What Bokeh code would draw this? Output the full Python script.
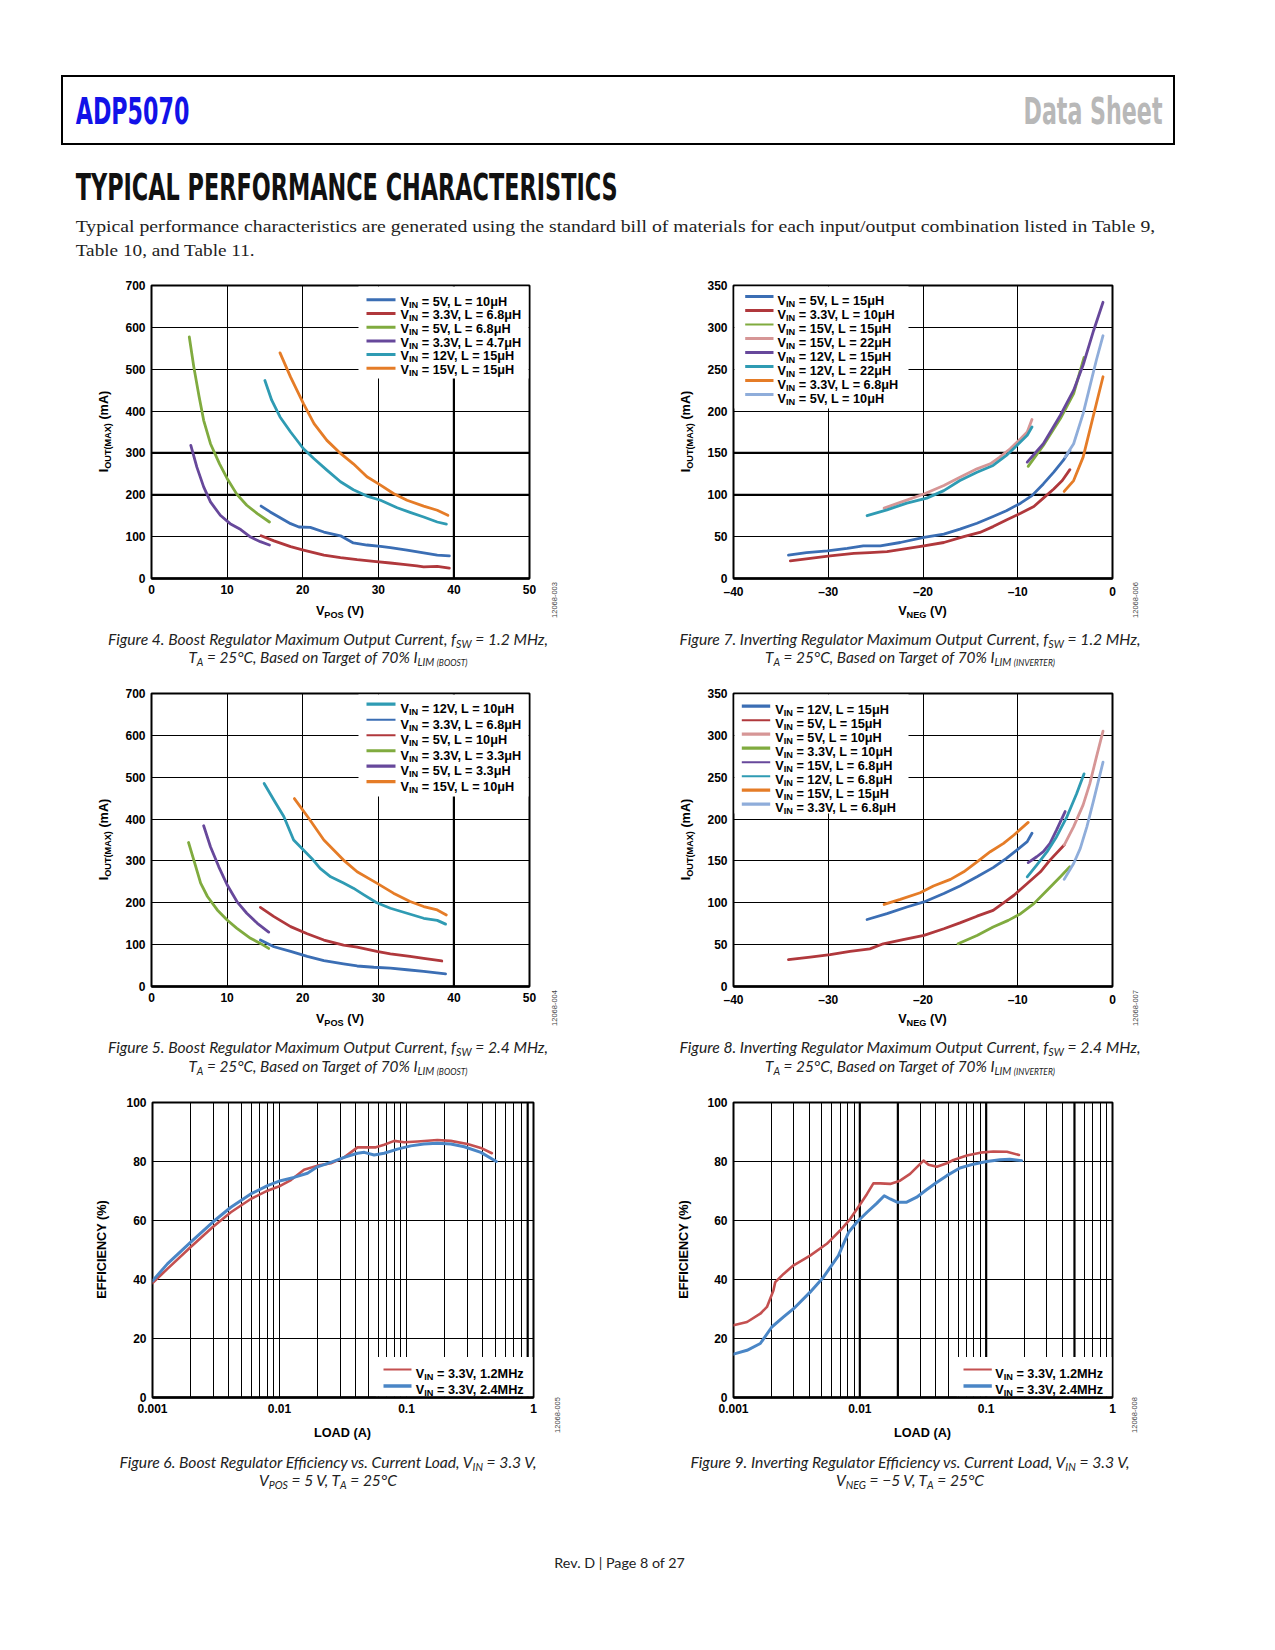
import math
from bokeh.plotting import figure
from bokeh.models import Label, BoxAnnotation, Span, FixedTicker, Div
from bokeh.layouts import column, row
from bokeh.embed import file_html
from bokeh.resources import INLINE

# ---------------- DATA ----------------
# Figure 4: boost, fSW = 1.2 MHz  (VPOS in V, IOUT(MAX) in mA)
F4_X_TICKS = [0, 10, 20, 30, 40, 50]
F4_Y_TICKS = [0, 100, 200, 300, 400, 500, 600, 700]
F4_5V_10UH_V = [14.5, 15.7, 18.4, 19.5, 21.0, 22.8, 25.0, 26.7, 28.5, 30.3, 31.6, 33.8, 36.0, 37.8, 39.4]
F4_5V_10UH_I = [173, 159, 131, 123, 122, 111, 102, 85, 80, 77, 74, 68, 61, 56, 54]
F4_33V_68UH_V = [14.5, 16.2, 18.4, 20.1, 22.8, 25.0, 27.2, 29.4, 31.6, 33.3, 35.1, 36.0, 37.8, 39.4]
F4_33V_68UH_I = [102, 90, 76, 68, 56, 50, 45, 41, 37, 34, 30, 28, 29, 25]
F4_5V_68UH_V = [5.0, 5.6, 6.3, 6.9, 7.8, 9.0, 10.0, 11.3, 12.6, 14.0, 15.6]
F4_5V_68UH_I = [577, 505, 434, 378, 322, 274, 239, 201, 175, 155, 135]
F4_33V_47UH_V = [5.2, 6.0, 6.9, 7.8, 9.1, 10.4, 11.8, 13.1, 14.4, 15.6]
F4_33V_47UH_I = [318, 266, 219, 183, 151, 131, 117, 99, 88, 80]
F4_12V_15UH_V = [15.0, 15.9, 17.0, 18.4, 20.1, 21.5, 23.2, 25.0, 26.7, 28.5, 30.3, 32.5, 34.2, 36.0, 37.8, 39.0]
F4_12V_15UH_I = [473, 426, 386, 350, 310, 286, 259, 231, 212, 197, 187, 169, 158, 147, 135, 130]
F4_15V_15UH_V = [17.0, 18.4, 20.1, 21.5, 23.2, 24.8, 26.7, 28.5, 30.3, 32.0, 33.8, 36.0, 37.8, 39.2]
F4_15V_15UH_I = [539, 481, 418, 370, 330, 302, 274, 243, 223, 203, 187, 173, 163, 151]

# Figure 5: boost, fSW = 2.4 MHz
F5_12V_10UH_V = [14.9, 16.2, 17.5, 18.8, 20.1, 21.2, 22.3, 23.7, 25.4, 26.7, 28.1, 29.8, 31.6, 33.8, 36.0, 37.8, 38.9]
F5_12V_10UH_I = [485, 445, 406, 350, 326, 306, 282, 262, 247, 235, 219, 200, 187, 175, 163, 158, 149]
F5_33V_68UH_V = [14.4, 16.2, 18.4, 20.6, 22.8, 25.4, 27.2, 29.4, 31.6, 33.8, 36.0, 38.9]
F5_33V_68UH_I = [111, 95, 84, 72, 62, 54, 49, 46, 44, 40, 36, 30]
F5_5V_10UH_V = [14.4, 16.2, 18.4, 20.6, 22.8, 25.4, 27.2, 29.8, 31.6, 34.2, 36.0, 38.4]
F5_5V_10UH_I = [189, 167, 143, 126, 111, 99, 94, 84, 78, 72, 67, 61]
F5_33V_33UH_V = [4.9, 5.6, 6.5, 7.4, 8.7, 10.0, 11.3, 13.1, 14.4, 15.5]
F5_33V_33UH_I = [344, 302, 247, 215, 183, 159, 139, 115, 103, 91]
F5_5V_33UH_V = [6.9, 7.8, 8.9, 10.0, 11.3, 12.6, 14.0, 15.5]
F5_5V_33UH_I = [384, 334, 286, 243, 203, 175, 151, 130]
F5_15V_10UH_V = [18.9, 20.8, 22.8, 25.4, 27.2, 29.8, 32.0, 34.2, 36.0, 37.8, 39.0]
F5_15V_10UH_I = [449, 402, 350, 302, 274, 247, 223, 203, 191, 183, 171]

# Figure 7: inverting, fSW = 1.2 MHz (VNEG in V)
F7_X_TICKS = [-40, -30, -20, -10, 0]
F7_X_LABELS = ["\u201340", "\u201330", "\u201320", "\u201310", "0"]
F7_Y_TICKS = [0, 50, 100, 150, 200, 250, 300, 350]
F7_5V_15UH_V = [-34.2, -32.3, -30.1, -28.0, -26.3, -24.5, -22.4, -19.9, -17.8, -16.1, -14.3, -12.6, -11.2, -9.7, -8.5, -7.3, -6.2, -5.2, -4.5]
F7_5V_15UH_I = [28, 31, 33, 36, 39, 39, 43, 49, 53, 59, 66, 74, 81, 90, 99, 113, 127, 141, 153]
F7_33V_10UH_V = [-34.0, -31.9, -29.8, -27.3, -25.6, -23.8, -22.1, -19.9, -17.8, -15.7, -14.0, -12.6, -11.2, -9.7, -8.3, -7.3, -6.2, -5.3, -4.5]
F7_33V_10UH_I = [21, 24, 27, 30, 31, 32, 35, 39, 43, 50, 55, 62, 70, 78, 86, 96, 107, 117, 130]
F7_15V_15UH_V = [-8.9, -7.3, -5.5, -4.1, -3.0]
F7_15V_15UH_I = [134, 159, 191, 221, 264]
F7_15V_22UH_V = [-24.1, -22.4, -19.9, -17.8, -16.1, -14.3, -12.9, -11.9, -10.8, -9.7, -9.0, -8.5]
F7_15V_22UH_I = [84, 91, 101, 111, 121, 131, 137, 145, 155, 167, 175, 190]
F7_12V_15UH_V = [-9.0, -7.3, -5.5, -4.1, -3.1, -2.0, -1.0]
F7_12V_15UH_I = [139, 161, 195, 225, 255, 296, 330]
F7_12V_22UH_V = [-25.9, -23.8, -21.7, -19.6, -17.8, -16.1, -14.3, -12.6, -11.2, -10.1, -9.0, -8.5]
F7_12V_22UH_I = [75, 82, 90, 96, 105, 117, 127, 135, 147, 159, 171, 181]
F7_33V_68UH_V = [-5.1, -4.1, -3.1, -2.4, -1.7, -1.0]
F7_33V_68UH_I = [104, 117, 145, 177, 209, 241]
F7_5V_10UH_V = [-5.0, -4.1, -3.1, -2.4, -1.7, -1.0]
F7_5V_10UH_I = [145, 161, 197, 229, 261, 290]

# Figure 8: inverting, fSW = 2.4 MHz
F8_12V_15UH_V = [-25.9, -23.8, -21.7, -19.9, -17.8, -16.1, -14.3, -12.6, -11.2, -10.1, -9.0, -8.5]
F8_12V_15UH_I = [80, 87, 95, 101, 111, 120, 131, 142, 153, 163, 173, 183]
F8_5V_15UH_V = [-34.2, -31.9, -29.8, -27.7, -25.6, -24.2, -22.1, -19.9, -17.8, -16.1, -14.3, -12.6, -11.5, -10.4, -9.0, -7.6, -6.6, -5.1]
F8_5V_15UH_I = [32, 35, 38, 42, 45, 51, 56, 61, 69, 76, 84, 91, 100, 109, 123, 137, 151, 169]
F8_5V_10UH_V = [-5.1, -4.1, -3.1, -2.4, -1.7, -1.0]
F8_5V_10UH_I = [169, 191, 217, 242, 274, 305]
F8_33V_10UH_V = [-16.3, -14.3, -12.6, -11.0, -9.7, -8.3, -6.9, -5.5, -4.5]
F8_33V_10UH_I = [51, 61, 71, 79, 87, 99, 115, 131, 143]
F8_15V_68UH_V = [-8.9, -8.0, -7.3, -6.6, -5.9, -5.0]
F8_15V_68UH_I = [148, 155, 161, 171, 187, 209]
F8_12V_68UH_V = [-9.0, -8.0, -6.9, -5.9, -4.8, -3.8, -3.0]
F8_12V_68UH_I = [131, 145, 161, 179, 203, 230, 254]
F8_15V_15UH_V = [-24.1, -22.4, -20.3, -18.9, -17.1, -15.7, -14.3, -12.9, -11.5, -10.4, -8.9]
F8_15V_15UH_I = [98, 104, 112, 120, 128, 137, 149, 161, 171, 181, 196]
F8_33V_68UH_V = [-5.1, -4.1, -3.4, -2.7, -2.0, -1.0]
F8_33V_68UH_I = [128, 147, 165, 191, 222, 268]

# Figure 6 / 9: efficiency vs load (A, %)
EFF_X_TICKS = [0.001, 0.01, 0.1, 1]
EFF_X_LABELS = ["0.001", "0.01", "0.1", "1"]
EFF_Y_TICKS = [0, 20, 40, 60, 80, 100]
F6_LOAD_12 = [0.001, 0.00131, 0.002, 0.00297, 0.00414, 0.00594, 0.00805, 0.0102, 0.0123, 0.0156, 0.0199, 0.0254, 0.0323, 0.0411, 0.0493, 0.0574, 0.0667, 0.080, 0.0959, 0.122, 0.175, 0.223, 0.302, 0.385, 0.47]
F6_EFF_12 = [38.8, 43.6, 51.0, 57.7, 62.8, 67.3, 70.1, 71.8, 73.7, 77.2, 78.6, 79.4, 81.4, 84.8, 84.8, 84.8, 85.7, 87.0, 86.5, 86.8, 87.3, 87.0, 85.9, 84.6, 82.8]
F6_LOAD_24 = [0.001, 0.00131, 0.002, 0.00297, 0.00414, 0.00594, 0.00805, 0.0102, 0.0130, 0.0166, 0.0199, 0.0254, 0.0323, 0.0411, 0.0465, 0.0556, 0.0667, 0.0848, 0.108, 0.137, 0.175, 0.223, 0.285, 0.385, 0.51]
F6_EFF_24 = [39.5, 45.3, 52.7, 59.4, 64.5, 69.0, 71.8, 73.5, 74.6, 76.0, 78.2, 79.7, 81.4, 82.8, 83.1, 82.2, 82.8, 84.2, 85.3, 85.9, 86.2, 85.9, 85.0, 83.1, 80.0]
F9_LOAD_12 = [0.001, 0.00128, 0.00163, 0.00184, 0.00207, 0.00214, 0.00249, 0.00299, 0.00404, 0.00548, 0.00698, 0.00838, 0.0101, 0.0114, 0.0128, 0.0145, 0.0174, 0.0208, 0.025, 0.0291, 0.0319, 0.035, 0.0407, 0.0488, 0.0551, 0.0703, 0.0897, 0.114, 0.146, 0.182]
F9_EFF_12 = [24.5, 25.6, 28.4, 30.7, 36.3, 39.1, 41.9, 44.8, 48.1, 52.1, 56.6, 60.5, 65.6, 69.0, 72.6, 72.6, 72.4, 73.5, 75.8, 78.6, 80.3, 78.9, 78.2, 79.4, 80.5, 82.0, 83.0, 83.4, 83.3, 82.2]
F9_LOAD_24 = [0.001, 0.00128, 0.00163, 0.00201, 0.00249, 0.00299, 0.00404, 0.00515, 0.00677, 0.00742, 0.00815, 0.00945, 0.0114, 0.0136, 0.0156, 0.0174, 0.0197, 0.0235, 0.0282, 0.0337, 0.0405, 0.0488, 0.0619, 0.0792, 0.101, 0.1286, 0.154, 0.191]
F9_EFF_24 = [14.7, 16.0, 18.3, 23.9, 27.3, 30.1, 35.7, 40.8, 48.1, 52.1, 56.0, 59.4, 62.8, 65.8, 68.4, 67.3, 66.2, 66.2, 67.9, 70.4, 72.9, 75.2, 77.8, 79.1, 80.0, 80.6, 80.8, 80.3]

# ---------------- STYLE ----------------
BLUE = "#3b6eb4"
RED = "#b0383c"
GREEN = "#80ab3f"
PURPLE = "#67489b"
TEAL = "#2f9bb3"
ORANGE = "#e57c27"
PINK = "#d69696"
LBLUE = "#8fadda"
RED6 = "#c45050"
BLUE6 = "#4a86c6"

FONT = "Liberation Sans"
LF, LS = 12.7, 9.2      # legend main / subscript size

AW = {' ': 278, '(': 333, ')': 333, '%': 889, ',': 278, '.': 278, '-': 333, '=': 584,
      'A': 722, 'B': 722, 'C': 722, 'D': 722, 'E': 667, 'F': 611, 'G': 778, 'H': 722,
      'I': 278, 'L': 611, 'M': 833, 'N': 722, 'O': 778, 'P': 667, 'S': 667, 'T': 611,
      'U': 722, 'V': 667, 'X': 667, 'Y': 667, 'm': 889, '\u03bc': 611}
for _d in "0123456789":
    AW[_d] = 556


def tw(s, size):
    return sum(AW.get(c, 600) for c in s) * size / 1000.0


class Frame:
    def __init__(self, xr, yr, fw, fh, log=False):
        self.xr, self.yr, self.fw, self.fh, self.log = xr, yr, fw, fh, log

    def xd(self, px):
        a, b = self.xr
        if self.log:
            la, lb = math.log10(a), math.log10(b)
            return 10 ** (la + px / self.fw * (lb - la))
        return a + px / self.fw * (b - a)

    def yd(self, py):
        a, b = self.yr
        return a + py / self.fh * (b - a)


def base_fig(bl, br, bt, bb, fr, xticks, yticks, xlabels=None, xminor=None):
    W = bl + fr.fw + br
    H = bt + fr.fh + bb
    p = figure(width=W, height=H, x_range=fr.xr, y_range=fr.yr,
               x_axis_type="log" if fr.log else "linear",
               output_backend="svg", toolbar_location=None,
               min_border_left=bl, min_border_right=br, min_border_top=bt, min_border_bottom=bb)
    p.background_fill_color = "white"
    p.border_fill_color = "white"
    p.outline_line_color = "black"
    p.outline_line_width = 2
    p.xaxis.ticker = FixedTicker(ticks=xticks, minor_ticks=xminor or [])
    p.yaxis.ticker = FixedTicker(ticks=yticks)
    p.xgrid.ticker = FixedTicker(ticks=xticks, minor_ticks=xminor or [])
    p.ygrid.ticker = FixedTicker(ticks=yticks)
    if xlabels:
        p.xaxis.major_label_overrides = {t: l for t, l in zip(xticks, xlabels)}
    for ax in (p.xaxis[0], p.yaxis[0]):
        ax.major_tick_in = 0
        ax.major_tick_out = 0
        ax.minor_tick_in = 0
        ax.minor_tick_out = 0
        ax.axis_line_color = None
        ax.major_label_text_font = FONT
        ax.major_label_text_font_style = "bold"
        ax.major_label_text_font_size = "12px"
        ax.major_label_text_color = "black"
        ax.major_label_standoff = 6
    p.xaxis.axis_line_color = "black"
    p.xaxis.axis_line_width = 2.6
    p.grid.grid_line_color = "black"
    p.grid.grid_line_width = 1
    if xminor:
        p.xgrid.minor_grid_line_color = "black"
        p.xgrid.minor_grid_line_width = 1
    return p


def rich(p, fr, parts, ox, oy):
    cur = 0.0
    for t, s, d in parts:
        lead = len(t) - len(t.lstrip(" "))
        cur += tw(" " * lead, s)
        t2 = t.lstrip(" ")
        p.add_layout(Label(x=fr.xr[0], y=fr.yr[0], x_offset=ox + cur, y_offset=oy - d, text=t2,
                           text_font=FONT, text_font_style="bold", text_font_size=f"{s}px",
                           text_color="black", text_align="left", text_baseline="alphabetic"))
        cur += tw(t2, s)


def spans(p, xs=(), ys=()):
    for v in xs:
        p.add_layout(Span(location=v, dimension="height", line_color="black",
                          line_width=2.2, level="underlay"))
    for v in ys:
        p.add_layout(Span(location=v, dimension="width", line_color="black",
                          line_width=2.2, level="underlay"))


def legend_box(p, fr, left_px, right_px, bot_px, top_px):
    p.add_layout(BoxAnnotation(left=fr.xd(left_px), right=fr.xd(right_px),
                               bottom=fr.yd(bot_px), top=fr.yd(top_px),
                               fill_color="white", fill_alpha=1.0, line_alpha=0.0,
                               level="underlay"))


def legend(p, fr, items, sx0, sx1, tx, bases, lines):
    for (txt, col, w), b, l in zip(items, bases, lines):
        y = fr.yd(l)
        p.segment(x0=[fr.xd(sx0)], y0=[y], x1=[fr.xd(sx1)], y1=[y], line_color=col, line_width=w)
        rich(p, fr, [("V", LF, 0), ("IN", LS, 3), (txt, LF, 0)], tx, b)


def curves(p, series, width=2.8):
    for xs, ys, col in series:
        p.line(xs, ys, line_color=col, line_width=width, line_join="round", line_cap="round")


LOG_MINOR = [k * 10.0 ** e for e in (-3, -2, -1) for k in range(2, 10)]

# ---------------- SVG text helpers ----------------
CAP_FONT = "Lato, 'Open Sans', 'Noto Sans', sans-serif"
COND_FONT = "'Liberation Sans Narrow', 'DejaVu Sans Condensed', 'Liberation Sans', sans-serif"
AX_FONT = "'Liberation Sans', Arial, sans-serif"


def esc(s):
    return s.replace("&", "&amp;").replace("<", "&lt;").replace(">", "&gt;")


def svg_text(x, y, parts, size, family, anchor="middle", length=None, style="normal",
             weight="normal", fill="#000000", sub=0.68, shift=None, transform=None):
    out, cur = [], 0.0
    sh_sub = size * 0.2 if shift is None else shift
    for t, k in parts:
        if k == "n":
            fs, sh = size, 0.0
        elif k == "s":
            fs, sh = size * sub, sh_sub
        else:
            fs, sh = size * 0.55, sh_sub
        dy = sh - cur
        cur = sh
        out.append(f'<tspan font-size="{fs:.2f}" dy="{dy:.2f}">{esc(t)}</tspan>')
    tl = f' textLength="{length}" lengthAdjust="spacingAndGlyphs"' if length else ""
    tr = f' transform="{transform}"' if transform else ""
    st = (f"font-family:{family};font-style:{style};font-weight:{weight};"
          f"white-space:pre;fill:{fill}")
    return (f'<text x="{x}" y="{y}" text-anchor="{anchor}" style="{st}"{tl}{tr}>'
            f'{"".join(out)}</text>')


def svg_div(w, h, inner):
    html = (f'<svg xmlns="http://www.w3.org/2000/svg" width="{w}" height="{h}" '
            f'style="display:block;overflow:visible">{inner}</svg>')
    return Div(text=html, width=w, height=h, margin=0)


def chart_block(p, fr, bl, bt, block_h, ylab_w, tag_w, ylab_parts, ylab_cx,
                xlab_parts, xlab_base, tag_text, tag_x, tag_y):
    fig_w = p.width
    fig_h = p.height
    cy = bt + fr.fh / 2.0
    bx = ylab_cx + 4.5
    ylab = svg_div(ylab_w, block_h,
                   svg_text(0, 0, ylab_parts, 12.7, AX_FONT, weight="bold", sub=0.72, shift=3,
                            transform=f"translate({bx},{cy}) rotate(-90)"))
    xlab = svg_div(fig_w, block_h - fig_h,
                   svg_text(bl + fr.fw / 2.0, xlab_base, xlab_parts, 12.7, AX_FONT,
                            weight="bold", sub=0.72, shift=3))
    tagd = svg_div(tag_w, block_h,
                   svg_text(0, 0, [(tag_text, "n")], 7.5, AX_FONT, fill="#444444",
                            transform=f"translate({tag_x + 2.5},{tag_y}) rotate(-90)"))
    return row(ylab, column(p, xlab, spacing=0), tagd, spacing=0)


Y_IOUT = [("I", "n"), ("OUT(MAX)", "s"), (" (mA)", "n")]
X_VPOS = [("V", "n"), ("POS", "s"), (" (V)", "n")]
X_VNEG = [("V", "n"), ("NEG", "s"), (" (V)", "n")]
Y_EFF = [("EFFICIENCY (%)", "n")]
X_LOAD = [("LOAD (A)", "n")]

# ---------------- FIGURE 4 ----------------
fr4 = Frame((0, 50), (0, 700), 378, 293)
p4 = base_fig(38, 14, 23, 24, fr4, F4_X_TICKS, F4_Y_TICKS)
spans(p4, xs=[40], ys=[200, 300])
legend_box(p4, fr4, 207, fr4.fw - 1, fr4.fh - 93, fr4.fh - 1)
curves(p4, [(F4_5V_10UH_V, F4_5V_10UH_I, BLUE), (F4_33V_68UH_V, F4_33V_68UH_I, RED),
            (F4_5V_68UH_V, F4_5V_68UH_I, GREEN), (F4_33V_47UH_V, F4_33V_47UH_I, PURPLE),
            (F4_12V_15UH_V, F4_12V_15UH_I, TEAL), (F4_15V_15UH_V, F4_15V_15UH_I, ORANGE)])
legend(p4, fr4, [(" = 5V, L = 10\u03bcH", BLUE, 3), (" = 3.3V, L = 6.8\u03bcH", RED, 3),
                 (" = 5V, L = 6.8\u03bcH", GREEN, 3), (" = 3.3V, L = 4.7\u03bcH", PURPLE, 3),
                 (" = 12V, L = 15\u03bcH", TEAL, 3), (" = 15V, L = 15\u03bcH", ORANGE, 3)],
       215, 244, 249,
       [fr4.fh - (16 + 13.7 * i) for i in range(6)],
       [fr4.fh - (14.3 + 13.7 * i) for i in range(6)])
b4 = chart_block(p4, fr4, 38, 23, 360, 105, 97, Y_IOUT, 95, X_VPOS, 12.5, "12068-003", 11, 338)

# ---------------- FIGURE 7 ----------------
fr7 = Frame((-40, 0), (0, 350), 379, 293)
p7 = base_fig(33, 11, 23, 24, fr7, F7_X_TICKS, F7_Y_TICKS, xlabels=F7_X_LABELS)
spans(p7, ys=[100, 150])
legend_box(p7, fr7, 1, 175, fr7.fh - 123, fr7.fh - 1)
curves(p7, [(F7_5V_15UH_V, F7_5V_15UH_I, BLUE), (F7_33V_10UH_V, F7_33V_10UH_I, RED),
            (F7_15V_22UH_V, F7_15V_22UH_I, PINK), (F7_12V_22UH_V, F7_12V_22UH_I, TEAL),
            (F7_15V_15UH_V, F7_15V_15UH_I, GREEN), (F7_12V_15UH_V, F7_12V_15UH_I, PURPLE),
            (F7_33V_68UH_V, F7_33V_68UH_I, ORANGE), (F7_5V_10UH_V, F7_5V_10UH_I, LBLUE)])
legend(p7, fr7, [(" = 5V, L = 15\u03bcH", BLUE, 3), (" = 3.3V, L = 10\u03bcH", RED, 3),
                 (" = 15V, L = 15\u03bcH", GREEN, 2), (" = 15V, L = 22\u03bcH", PINK, 3),
                 (" = 12V, L = 15\u03bcH", PURPLE, 3), (" = 12V, L = 22\u03bcH", TEAL, 3),
                 (" = 3.3V, L = 6.8\u03bcH", ORANGE, 3), (" = 5V, L = 10\u03bcH", LBLUE, 3)],
       11.7, 40, 44,
       [fr7.fh - (15.7 + 14 * i) for i in range(8)],
       [fr7.fh - (11 + 14 * i) for i in range(8)])
b7 = chart_block(p7, fr7, 33, 23, 360, 60, 144, Y_IOUT, 45, X_VNEG, 13, "12068-006", 12, 338)

# ---------------- FIGURE 5 ----------------
fr5 = Frame((0, 50), (0, 700), 378, 293)
p5 = base_fig(38, 14, 21, 24, fr5, F4_X_TICKS, F4_Y_TICKS)
spans(p5, xs=[40])
legend_box(p5, fr5, 207, fr5.fw - 1, fr5.fh - 103, fr5.fh - 1)
curves(p5, [(F5_12V_10UH_V, F5_12V_10UH_I, TEAL), (F5_33V_68UH_V, F5_33V_68UH_I, BLUE),
            (F5_5V_10UH_V, F5_5V_10UH_I, RED), (F5_33V_33UH_V, F5_33V_33UH_I, GREEN),
            (F5_5V_33UH_V, F5_5V_33UH_I, PURPLE), (F5_15V_10UH_V, F5_15V_10UH_I, ORANGE)])
legend(p5, fr5, [(" = 12V, L = 10\u03bcH", TEAL, 3.2), (" = 3.3V, L = 6.8\u03bcH", BLUE, 2),
                 (" = 5V, L = 10\u03bcH", RED, 2), (" = 3.3V, L = 3.3\u03bcH", GREEN, 3),
                 (" = 5V, L = 3.3\u03bcH", PURPLE, 3.2), (" = 15V, L = 10\u03bcH", ORANGE, 3.2)],
       215, 244, 249,
       [fr5.fh - (15.7 + 15.5 * i) for i in range(6)],
       [fr5.fh - (10.7 + 15.5 * i) for i in range(6)])
b5 = chart_block(p5, fr5, 38, 21, 358, 105, 97, Y_IOUT, 95, X_VPOS, 12.8, "12068-004", 11, 336)

# ---------------- FIGURE 8 ----------------
fr8 = Frame((-40, 0), (0, 350), 379, 293)
p8 = base_fig(33, 11, 21, 24, fr8, F7_X_TICKS, F7_Y_TICKS, xlabels=F7_X_LABELS)
legend_box(p8, fr8, 1, 175, fr8.fh - 120, fr8.fh - 1)
curves(p8, [(F8_12V_15UH_V, F8_12V_15UH_I, BLUE), (F8_5V_15UH_V, F8_5V_15UH_I, RED),
            (F8_5V_10UH_V, F8_5V_10UH_I, PINK), (F8_33V_10UH_V, F8_33V_10UH_I, GREEN),
            (F8_15V_68UH_V, F8_15V_68UH_I, PURPLE), (F8_12V_68UH_V, F8_12V_68UH_I, TEAL),
            (F8_15V_15UH_V, F8_15V_15UH_I, ORANGE), (F8_33V_68UH_V, F8_33V_68UH_I, LBLUE)])
legend(p8, fr8, [(" = 12V, L = 15\u03bcH", BLUE, 3.2), (" = 5V, L = 15\u03bcH", RED, 2),
                 (" = 5V, L = 10\u03bcH", PINK, 3.2), (" = 3.3V, L = 10\u03bcH", GREEN, 3.2),
                 (" = 15V, L = 6.8\u03bcH", PURPLE, 2), (" = 12V, L = 6.8\u03bcH", TEAL, 2),
                 (" = 15V, L = 15\u03bcH", ORANGE, 3.2), (" = 3.3V, L = 6.8\u03bcH", LBLUE, 3.2)],
       8.3, 36.7, 41.7,
       [fr8.fh - (16 + 14 * i) for i in range(8)],
       [fr8.fh - (12.7 + 14 * i) for i in range(8)])
b8 = chart_block(p8, fr8, 33, 21, 358, 60, 144, Y_IOUT, 45, X_VNEG, 13, "12068-007", 12, 336)

# ---------------- FIGURE 6 ----------------
fr6 = Frame((0.001, 1), (0, 100), 381, 295, log=True)
p6 = base_fig(39, 14, 22, 24, fr6, EFF_X_TICKS, EFF_Y_TICKS, xlabels=EFF_X_LABELS, xminor=LOG_MINOR)
spans(p6, xs=[0.9])
legend_box(p6, fr6, 223.3, fr6.fw - 1, 1, 40.6)
curves(p6, [(F6_LOAD_12, F6_EFF_12, RED6)], 2.6)
curves(p6, [(F6_LOAD_24, F6_EFF_24, BLUE6)], 3)
legend(p6, fr6, [(" = 3.3V, 1.2MHz", RED6, 2), (" = 3.3V, 2.4MHz", BLUE6, 3.5)],
       231, 259, 263.3, [24, 7.3], [28, 11.6])
b6 = chart_block(p6, fr6, 39, 22, 360, 105, 93, Y_EFF, 93.7, X_LOAD, 15.5, "12068-005", 10, 335)

# ---------------- FIGURE 9 ----------------
fr9 = Frame((0.001, 1), (0, 100), 379, 295, log=True)
p9 = base_fig(33, 11, 22, 24, fr9, EFF_X_TICKS, EFF_Y_TICKS, xlabels=EFF_X_LABELS, xminor=LOG_MINOR)
spans(p9, xs=[0.01, 0.02, 0.1, 0.5])
legend_box(p9, fr9, 223.3, fr9.fw - 1, 1, 40.6)
curves(p9, [(F9_LOAD_12, F9_EFF_12, RED6)], 2.6)
curves(p9, [(F9_LOAD_24, F9_EFF_24, BLUE6)], 3)
legend(p9, fr9, [(" = 3.3V, 1.2MHz", RED6, 2), (" = 3.3V, 2.4MHz", BLUE6, 3.5)],
       230, 258.3, 261.7, [24, 7.3], [28, 11.6])
b9 = chart_block(p9, fr9, 33, 22, 360, 60, 144, Y_EFF, 43.3, X_LOAD, 15.5, "12068-008", 11, 335)

# ---------------- TEXT BLOCKS ----------------
PAGE_W = 1259

header = svg_div(PAGE_W, 254, "".join([
    '<rect x="54" y="68" width="1112" height="68" fill="none" stroke="#000" stroke-width="2"/>',
    svg_text(67.7, 116, [("ADP5070", "n")], 37, COND_FONT, anchor="start", length=113.7,
             weight="bold", fill="#1212e8"),
    svg_text(1154.5, 116, [("Data Sheet", "n")], 37, COND_FONT, anchor="end", length=139,
             weight="bold", fill="#b8b8b8"),
    svg_text(67.7, 192, [("TYPICAL PERFORMANCE CHARACTERISTICS", "n")], 38, COND_FONT,
             anchor="start", length=542, weight="bold", fill="#111111"),
    svg_text(67.7, 224, [("Typical performance characteristics are generated using the standard bill "
                          "of materials for each input/output combination listed in Table 9,", "n")],
             16.5, "'Liberation Serif', serif", anchor="start", length=1079.5, fill="#222222"),
    svg_text(67.7, 248, [("Table 10, and Table 11.", "n")], 16.5, "'Liberation Serif', serif",
             anchor="start", length=179, fill="#222222"),
]))

LC, RC = 320, 902


def caption_div(h, y1, y2, left, right):
    (l1, l1w, l2, l2w), (r1, r1w, r2, r2w) = left, right
    return svg_div(PAGE_W, h, "".join([
        svg_text(LC, y1, l1, 15.5, CAP_FONT, length=l1w, style="italic", fill="#222222"),
        svg_text(LC, y2, l2, 15.5, CAP_FONT, length=l2w, style="italic", fill="#222222"),
        svg_text(RC, y1, r1, 15.5, CAP_FONT, length=r1w, style="italic", fill="#222222"),
        svg_text(RC, y2, r2, 15.5, CAP_FONT, length=r2w, style="italic", fill="#222222"),
    ]))


BOOST_L2 = [("T", "n"), ("A", "s"), (" = 25\u00b0C, Based on Target of 70% I", "n"),
            ("LIM ", "s"), ("(BOOST)", "ss")]
INV_L2 = [("T", "n"), ("A", "s"), (" = 25\u00b0C, Based on Target of 70% I", "n"),
          ("LIM ", "s"), ("(INVERTER)", "ss")]

capA = caption_div(50, 23, 41,
                   ([("Figure 4. Boost Regulator Maximum Output Current, f", "n"), ("SW", "s"),
                     (" = 1.2 MHz,", "n")], 440, BOOST_L2, 279),
                   ([("Figure 7. Inverting Regulator Maximum Output Current, f", "n"), ("SW", "s"),
                     (" = 1.2 MHz,", "n")], 461, INV_L2, 290))
capB = caption_div(50, 23, 41.5,
                   ([("Figure 5. Boost Regulator Maximum Output Current, f", "n"), ("SW", "s"),
                     (" = 2.4 MHz,", "n")], 440, BOOST_L2, 279),
                   ([("Figure 8. Inverting Regulator Maximum Output Current, f", "n"), ("SW", "s"),
                     (" = 2.4 MHz,", "n")], 461, INV_L2, 290))
capC = caption_div(60, 27.5, 46,
                   ([("Figure 6. Boost Regulator Efficiency vs. Current Load, V", "n"), ("IN", "s"),
                     (" = 3.3 V,", "n")], 417,
                    [("V", "n"), ("POS", "s"), (" = 5 V, T", "n"), ("A", "s"), (" = 25\u00b0C", "n")], None),
                   ([("Figure 9. Inverting Regulator Efficiency vs. Current Load, V", "n"), ("IN", "s"),
                     (" = 3.3 V,", "n")], 439,
                    [("V", "n"), ("NEG", "s"), (" = \u22125 V, T", "n"), ("A", "s"), (" = 25\u00b0C", "n")], None))

footer = svg_div(PAGE_W, 90, svg_text(611.6, 68, [("Rev. D | Page 8 of 27", "n")], 14, CAP_FONT,
                                      length=130.5, fill="#222222"))

layout = column(header,
                row(b4, b7, spacing=0),
                capA,
                row(b5, b8, spacing=0),
                capB,
                row(b6, b9, spacing=0),
                capC,
                footer, spacing=0, margin=(8, 8, 8, 8))

open("out.html", "w", encoding="utf-8").write(
    file_html(layout, INLINE, "ADP5070 Typical Performance Characteristics"))
